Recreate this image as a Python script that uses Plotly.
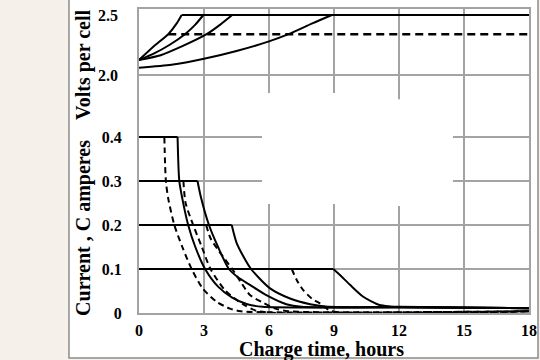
import plotly.graph_objects as go

# ---------------- data ----------------
x_ticks = [0, 3, 6, 9, 12, 15, 18]
x_tick_labels = ["0", "3", "6", "9", "12", "15", "18"]
cur_ticks = [0, 0.1, 0.2, 0.3, 0.4]
cur_tick_labels = ["0", "0.1", "0.2", "0.3", "0.4"]
volt_ticks = [2.0, 2.5]
volt_tick_labels = ["2.0", "2.5"]

# voltage curves (volts per cell) for 0.4, 0.3, 0.2, 0.1 C
t_vA = [0, 0.66, 1.35, 1.74, 1.97]
v_A = [2.125, 2.236, 2.34, 2.43, 2.5]
t_vB = [0, 0.7, 1.4, 2.12, 2.6, 2.97]
v_B = [2.125, 2.18, 2.25, 2.34, 2.42, 2.5]
t_vC = [0, 1.0, 2.0, 3.12, 3.75, 4.3]
v_C = [2.125, 2.165, 2.24, 2.34, 2.42, 2.5]
t_vD = [0, 1.5, 3.0, 4.5, 6.0, 6.9, 8.0, 8.9]
v_D = [2.06, 2.085, 2.135, 2.2, 2.28, 2.34, 2.43, 2.5]
t_vlim_hi = [1.97, 18]
v_lim_hi = [2.5, 2.5]
t_vlim_lo = [1.35, 18]
v_lim_lo = [2.34, 2.34]

# current curves (C amperes); S = solid (2.5 V limit), D = dashed (2.34 V limit)
t_S04 = [0, 1.78, 1.86, 2.0, 2.27, 2.6, 3.05, 3.65, 4.3, 5.0, 5.7, 12, 18]
i_S04 = [0.4, 0.4, 0.3, 0.26, 0.2, 0.15, 0.1, 0.06, 0.035, 0.02, 0.014, 0.013, 0.011]
t_D04 = [0, 1.17, 1.24, 1.35, 1.63, 2.0, 2.43, 2.95, 3.6, 4.2, 4.7, 18]
i_D04 = [0.4, 0.4, 0.3, 0.26, 0.2, 0.15, 0.1, 0.055, 0.025, 0.01, 0.004, 0.004]
t_S03 = [0, 2.7, 2.85, 3.23, 3.65, 4.15, 4.6, 5.12, 5.9, 6.8, 7.5, 12, 18]
i_S03 = [0.3, 0.3, 0.265, 0.2, 0.15, 0.1, 0.08, 0.064, 0.04, 0.02, 0.014, 0.013, 0.011]
t_D03 = [0, 2.05, 2.15, 2.5, 2.9, 3.3, 4.0, 4.8, 5.5, 18]
i_D03 = [0.3, 0.3, 0.25, 0.2, 0.15, 0.1, 0.05, 0.02, 0.004, 0.004]
t_S02 = [0, 4.28, 4.5, 4.8, 5.17, 6.05, 6.97, 7.9, 8.6, 12, 18]
i_S02 = [0.2, 0.2, 0.16, 0.13, 0.1, 0.056, 0.033, 0.02, 0.015, 0.013, 0.011]
t_D02 = [0, 3.1, 3.3, 3.7, 4.3, 4.7, 5.12, 5.74, 6.3, 6.9, 18]
i_D02 = [0.2, 0.2, 0.17, 0.14, 0.1, 0.07, 0.041, 0.023, 0.01, 0.004, 0.004]
t_S01 = [0, 8.97, 9.3, 9.74, 10.35, 11.1, 11.6, 12, 18]
i_S01 = [0.1, 0.1, 0.085, 0.064, 0.037, 0.018, 0.015, 0.014, 0.011]
t_D01 = [0, 7.05, 7.28, 7.58, 7.97, 8.35, 8.9, 18]
i_D01 = [0.1, 0.1, 0.075, 0.052, 0.033, 0.022, 0.004, 0.004]

# ---------------- figure ----------------
FONT = "Liberation Serif"
GRID = "#a3a3a3"
fig = go.Figure()

solid = dict(color="black", width=2)
dashed = dict(color="black", width=2, dash="6px,4px")

for tx, vy in [(t_vA, v_A), (t_vB, v_B), (t_vC, v_C), (t_vD, v_D), (t_vlim_hi, v_lim_hi)]:
    fig.add_trace(go.Scatter(x=tx, y=vy, yaxis="y2", mode="lines", line=solid,
                             line_shape="spline", line_smoothing=0.6))
fig.add_trace(go.Scatter(x=t_vlim_lo, y=v_lim_lo, yaxis="y2", mode="lines",
                         line=dict(color="black", width=2.5, dash="8px,5px")))

for tx, iy, st in [(t_S04, i_S04, solid), (t_D04, i_D04, dashed),
                   (t_S03, i_S03, solid), (t_D03, i_D03, dashed),
                   (t_S02, i_S02, solid), (t_D02, i_D02, dashed),
                   (t_S01, i_S01, solid), (t_D01, i_D01, dashed)]:
    # constant-current part (straight)
    fig.add_trace(go.Scatter(x=tx[:2], y=iy[:2], yaxis="y", mode="lines", line=st))
    # tapering part (smooth)
    fig.add_trace(go.Scatter(x=tx[1:], y=iy[1:], yaxis="y", mode="lines",
                             line=dict(st, shape="spline", smoothing=0.7)))

shapes = []
# white picture box with border
shapes.append(dict(type="rect", xref="paper", yref="paper", x0=-0.1795, x1=1.0231,
                   y0=-0.148, y1=1.05, fillcolor="white", line=dict(color="#8c8c8c", width=1.5),
                   layer="below"))
def hline(y, x0, x1, yref="y"):
    shapes.append(dict(type="line", xref="x", yref=yref, x0=x0, x1=x1, y0=y, y1=y,
                       line=dict(color=GRID, width=2), layer="below"))
def vline(x, y0, y1, yref="y"):
    shapes.append(dict(type="line", xref="x", yref=yref, x0=x, x1=x, y0=y0, y1=y1,
                       line=dict(color=GRID, width=2), layer="below"))

hline(2.0, 0, 18, "y2")
hline(0.1, 0, 18)
hline(0.2, 0, 18)
for lv in (0.3, 0.4):
    hline(lv, 0, 5.68)
    hline(lv, 14.49, 18)
vline(3, 0, 1, "paper")
vline(15, 0, 1, "paper")
for xv in (6, 9):
    vline(xv, 0, 0.248)
    vline(xv, 0.5, 0.6909)
vline(12, 0, 0.243)
vline(12, 0.486, 0.6909)

tickfont = dict(family=FONT, size=16, color="black", weight="bold")
fig.update_layout(
    width=540, height=360,
    margin=dict(l=139, r=11, t=9, b=47, autoexpand=False),
    paper_bgcolor="#f5f0ea",
    plot_bgcolor="rgba(0,0,0,0)",
    showlegend=False,
    shapes=shapes,
    xaxis=dict(range=[0, 18], tickvals=x_ticks, ticktext=x_tick_labels, showgrid=False,
               zeroline=False, showline=True, mirror=True, linecolor=GRID, linewidth=2,
               ticks="", tickfont=tickfont, ticklabelstandoff=2, automargin=False),
    yaxis=dict(range=[0, 0.6909], tickvals=cur_ticks, ticktext=cur_tick_labels, showgrid=False,
               zeroline=False, showline=True, mirror=True, linecolor=GRID, linewidth=2,
               ticks="", tickfont=tickfont, ticklabelstandoff=12, automargin=False),
    yaxis2=dict(range=[0.016667, 2.55], overlaying="y", side="left", anchor="x",
                tickvals=volt_ticks, ticktext=volt_tick_labels, showgrid=False,
                zeroline=False, showline=False, ticks="", tickfont=tickfont,
                ticklabelstandoff=20, automargin=False),
    annotations=[
        dict(text="Volts per cell", xref="paper", yref="paper", x=-0.141, y=0.816,
             textangle=-90, showarrow=False, xanchor="center", yanchor="middle",
             font=dict(family=FONT, size=20, color="black", weight="bold")),
        dict(text="Current , C amperes", xref="paper", yref="paper", x=-0.141, y=0.28,
             textangle=-90, showarrow=False, xanchor="center", yanchor="middle",
             font=dict(family=FONT, size=20, color="black", weight="bold")),
        dict(text="Charge time, hours", xref="paper", yref="paper", x=0.469, y=-0.119,
             showarrow=False, xanchor="center", yanchor="middle",
             font=dict(family=FONT, size=20, color="black", weight="bold")),
    ],
)

fig.write_html("out.html", config={"displayModeBar": False})

# remove the browser's default page margin so the figure sits at the page origin
with open("out.html", "r", encoding="utf-8") as fh:
    html = fh.read()
html = html.replace("<head>", "<head><style>html,body{margin:0;padding:0;overflow:hidden;}</style>", 1)
with open("out.html", "w", encoding="utf-8") as fh:
    fh.write(html)
